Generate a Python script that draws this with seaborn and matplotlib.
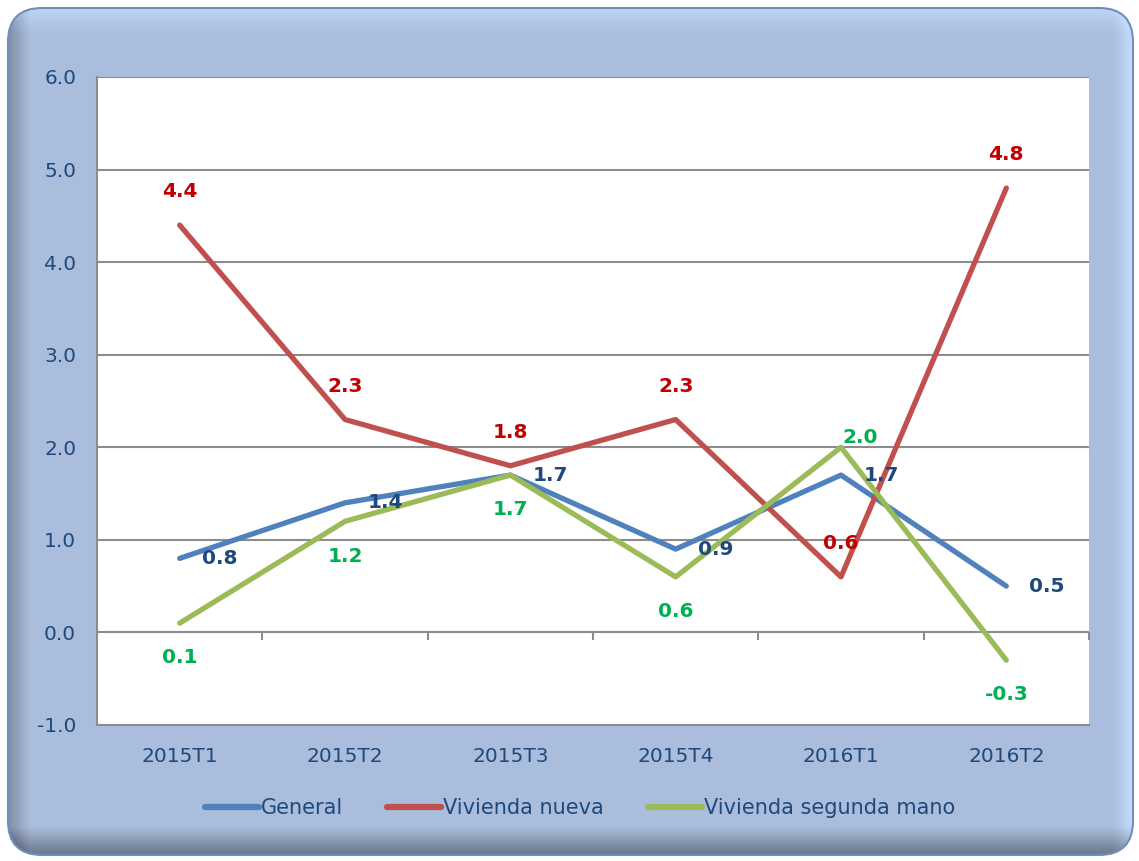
import numpy as np
import pandas as pd
import matplotlib
matplotlib.use('Agg')
import matplotlib.pyplot as plt
import seaborn as sns
from matplotlib.patches import FancyBboxPatch

# data
quarters = ['2015T1', '2015T2', '2015T3', '2015T4', '2016T1', '2016T2']
general = [0.8, 1.4, 1.7, 0.9, 1.7, 0.5]
vivienda_nueva = [4.4, 2.3, 1.8, 2.3, 0.6, 4.8]
vivienda_segunda = [0.1, 1.2, 1.7, 0.6, 2.0, -0.3]
series_names = ['General', 'Vivienda nueva', 'Vivienda segunda mano']
yticks = [-1.0, 0.0, 1.0, 2.0, 3.0, 4.0, 5.0, 6.0]

line_colors = ['#4F81BD', '#C0504D', '#9BBB59']
label_colors = ['#1F497D', '#C00000', '#00B050']
text_color = '#1F497D'

df = pd.DataFrame({
    'quarter': quarters * 3,
    'value': general + vivienda_nueva + vivienda_segunda,
    'serie': sum([[n] * len(quarters) for n in series_names], []),
})

sns.set_style('white')
plt.rcParams['font.family'] = ['DejaVu Sans']

W, H = 1139, 861
fig = plt.figure(figsize=(W / 100, H / 100), dpi=100)
fig.patch.set_facecolor('white')

# framed background with a soft bevel
bg = fig.add_axes([0, 0, 1, 1], zorder=-10)
bg.set_xlim(0, W)
bg.set_ylim(0, H)
bg.axis('off')
yy, xx = np.mgrid[0:H, 0:W]
base = np.array([0.667, 0.745, 0.866])
shade = np.ones((H, W))
d_bottom = yy - 8
d_left = xx - 8
d_right = (W - 8) - xx
d_top = (H - 8) - yy
shade -= 0.35 * np.clip(1 - d_bottom / 26.0, 0, 1)
shade -= 0.25 * np.clip(1 - d_left / 22.0, 0, 1)
shade += 0.12 * np.clip(1 - d_top / 26.0, 0, 1)
shade += 0.15 * np.clip(1 - d_right / 18.0, 0, 1)
img = np.clip(base[None, None, :] * shade[:, :, None], 0, 1)
im = bg.imshow(img, origin='lower', extent=(0, W, 0, H), interpolation='bilinear')
clip = FancyBboxPatch((8, 6), W - 14, H - 14, boxstyle='round,pad=0,rounding_size=34',
                      transform=bg.transData, facecolor='none', edgecolor='none')
bg.add_patch(clip)
im.set_clip_path(clip)
bg.add_patch(FancyBboxPatch((8, 6), W - 14, H - 14, boxstyle='round,pad=0,rounding_size=34',
                            facecolor='none', edgecolor='#6F8FBA', linewidth=1.5))

ax = fig.add_axes([97 / W, 1 - 725 / H, (1089 - 97) / W, (725 - 77) / H])
ax.set_facecolor('white')

sns.lineplot(data=df, x='quarter', y='value', hue='serie', palette=line_colors,
             hue_order=series_names, linewidth=3.8, ax=ax, legend=True, sort=False)

ax.set_xlim(-0.5, len(quarters) - 0.5)
ax.set_ylim(-1, 6)
ax.set_yticks(yticks)
ax.set_yticklabels([f'{v:.1f}' for v in yticks])
ax.yaxis.grid(True, color='#8C8C8C', linewidth=1.5)
ax.set_axisbelow(True)
for s in ['top', 'right']:
    ax.spines[s].set_visible(False)
ax.spines['left'].set_color('#8C8C8C')
ax.spines['left'].set_linewidth(1.5)
ax.spines['bottom'].set_color('#8C8C8C')
ax.spines['bottom'].set_linewidth(1.5)
ax.tick_params(axis='y', length=6, width=1.5, color='#8C8C8C', labelcolor=text_color,
               labelsize=14.5, pad=9)
ax.tick_params(axis='x', length=0, labelcolor=text_color, labelsize=14.5, pad=16)
ax.set_xlabel('')
ax.set_ylabel('')

# category-boundary ticks on the zero line
sec = ax.secondary_xaxis(1 / 7)
sec.set_xticks(np.arange(len(quarters)) + 0.5)
sec.set_xticklabels([])
sec.tick_params(length=6, width=1.5, color='#8C8C8C')
sec.spines['bottom'].set_visible(False)

# data labels
label_font = dict(fontsize=14.5, fontweight='bold', ha='center', va='center')
for i, v in enumerate(general):
    ax.annotate(f'{v:.1f}', (i, v), xytext=(29, 0), textcoords='offset points',
                color=label_colors[0], **label_font)
for i, v in enumerate(vivienda_nueva):
    ax.annotate(f'{v:.1f}', (i, v), xytext=(0, 24), textcoords='offset points',
                color=label_colors[1], **label_font)
for i, v in enumerate(vivienda_segunda):
    off = (14, 7) if i == 4 else (0, -25)
    ax.annotate(f'{v:.1f}', (i, v), xytext=off, textcoords='offset points',
                color=label_colors[2], **label_font)

handles, labels = ax.get_legend_handles_labels()
ax.get_legend().remove()
for h in handles:
    h.set_linewidth(4.5)
leg = fig.legend(handles, labels, loc='center', bbox_to_anchor=(0.509, 1 - 808 / H), ncol=3,
                 frameon=False, handlelength=2.6, handletextpad=0.1, columnspacing=2.1,
                 prop={'family': ['DejaVu Sans'], 'size': 15})
for t in leg.get_texts():
    t.set_color(text_color)

fig.savefig('out.png', dpi=100)
